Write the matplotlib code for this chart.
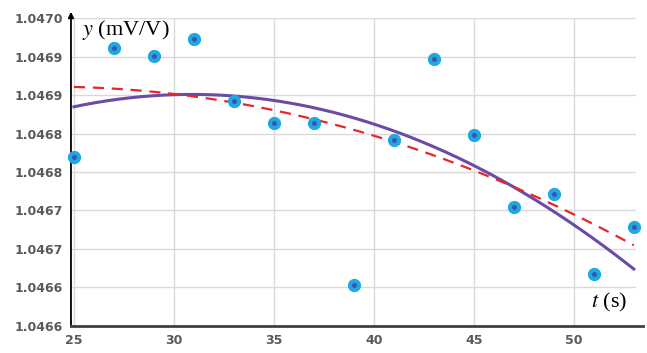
import numpy as np
import matplotlib.pyplot as plt

plt.rcParams['mathtext.fontset'] = 'stix'

# measured points
t = [25, 27, 29, 31, 33, 35, 37, 39, 41, 43, 45, 47, 49, 51, 53]
y = [1.046820, 1.046961, 1.046951, 1.046973, 1.046892, 1.046863, 1.046863,
     1.046653, 1.046841, 1.046947, 1.046848, 1.046755, 1.046772, 1.046667,
     1.046729]

# curves
curve_t = [25, 30, 35, 40, 45, 50, 53]
purple_y = [1.046887, 1.046898, 1.046891, 1.046861, 1.046813, 1.046733, 1.046671]
red_y = [1.046912, 1.046900, 1.046878, 1.046848, 1.046803, 1.046748, 1.046702]

y_ticks = [1.04660, 1.04665, 1.04670, 1.04675, 1.04680, 1.04685, 1.04690, 1.04695, 1.04700]
y_labels = ['1.0466', '1.0466', '1.0467', '1.0467', '1.0468', '1.0468', '1.0469', '1.0469', '1.0470']
x_ticks = [25, 30, 35, 40, 45, 50]

fig = plt.figure(figsize=(6.47, 3.53), dpi=100)
ax = fig.add_axes([0.1097, 0.0765, 0.873, 0.8725])

tt = np.linspace(25, 53, 200)
p_purple = np.polyfit(curve_t, purple_y, 2)
p_red = np.polyfit(curve_t, red_y, 2)
ax.plot(tt, np.polyval(p_purple, tt), color='#6A4BA8', lw=2.2, zorder=3)
ax.plot(tt, np.polyval(p_red, tt), color='#E8262A', lw=1.6, ls=(0, (5, 3.5)), zorder=3)

ax.plot(t, y, 'o', color='#1EA7E1', ms=8.5, zorder=4, clip_on=False)
ax.plot(t, y, 'o', color='#3A55A8', ms=2.5, zorder=5, clip_on=False)

ax.set_xlim(24.85, 53.1)
ax.set_ylim(1.0466, 1.0470)
ax.set_xticks(x_ticks)
ax.set_yticks(y_ticks)
ax.set_yticklabels(y_labels)
ax.tick_params(length=0, labelsize=9, labelcolor='#595959', pad=6)
for lab in ax.get_xticklabels() + ax.get_yticklabels():
    lab.set_fontweight('bold')
ax.grid(True, color='#D9D9D9', lw=1)
ax.set_axisbelow(True)
for s in ax.spines.values():
    s.set_visible(False)

# axis lines
ax.annotate('', xy=(0, 1.02), xytext=(0, 0), xycoords='axes fraction',
            arrowprops=dict(arrowstyle='-|>', color='black', lw=1.3,
                            mutation_scale=8, shrinkA=0, shrinkB=0))
ax.plot([0, 1.013], [0, 0], transform=ax.transAxes, color='#404040', lw=2,
        clip_on=False, zorder=6)

ax.text(0.02, 0.96, r'$y$ (mV/V)', transform=ax.transAxes, fontsize=16,
        family='Liberation Serif', va='center', ha='left')
ax.text(0.985, 0.075, r'$t$ (s)', transform=ax.transAxes, fontsize=16,
        family='Liberation Serif', va='center', ha='right')

fig.savefig('out.png', dpi=100)
